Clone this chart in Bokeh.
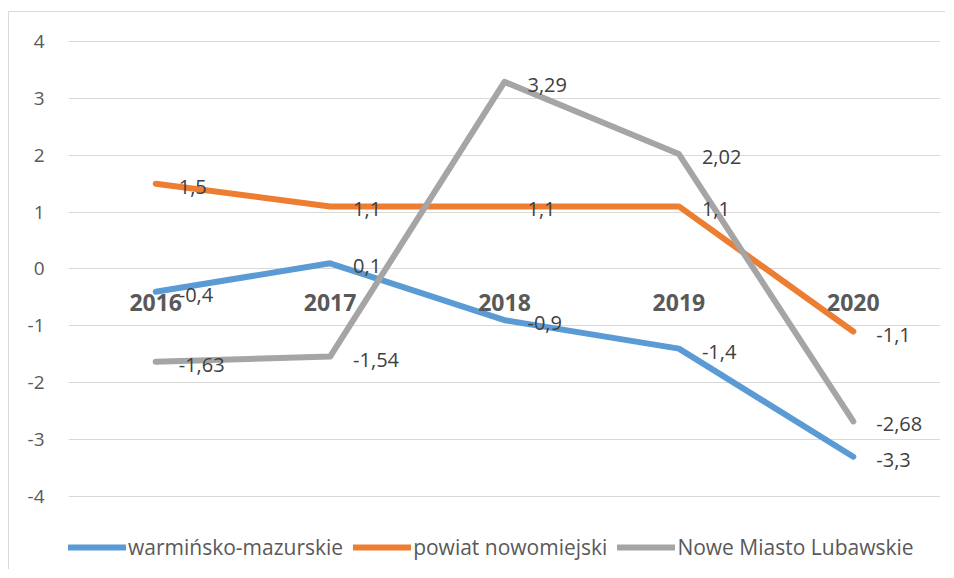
from bokeh.plotting import figure
from bokeh.models import FixedTicker, Legend, LegendItem, ColumnDataSource
from bokeh.core.properties import value
from bokeh.embed import file_html
from bokeh.resources import INLINE

years = ["2016", "2017", "2018", "2019", "2020"]
warminsko = [-0.4, 0.1, -0.9, -1.4, -3.3]
powiat = [1.5, 1.1, 1.1, 1.1, -1.1]
nowe_miasto = [-1.63, -1.54, 3.29, 2.02, -2.68]
series_names = ["warmińsko-mazurskie", "powiat nowomiejski", "Nowe Miasto Lubawskie"]
colors = ["#5B9BD5", "#ED7D31", "#A5A5A5"]
y_ticks = [-4, -3, -2, -1, 0, 1, 2, 3, 4]
y_tick_labels = ["-4", "-3", "-2", "-1", "0", "1", "2", "3", "4"]

FONT = "Open Sans"
xs = list(range(len(years)))

p = figure(width=937, height=558, output_backend="svg", toolbar_location=None,
           x_range=(-0.5, 4.5), y_range=(-5.301, 4.105),
           min_border_left=59, min_border_right=6, min_border_top=23, min_border_bottom=0,
           styles={"margin-left": "8px", "margin-top": "11px",
                   "border-left": "1px solid #d9d9d9", "border-top": "1px solid #d9d9d9"})
p.background_fill_color = "white"
p.border_fill_color = "white"
p.outline_line_color = None

p.xaxis.visible = False
p.xgrid.visible = False
p.yaxis.ticker = FixedTicker(ticks=y_ticks)
p.yaxis.major_label_overrides = {t: l for t, l in zip(y_ticks, y_tick_labels)}
p.yaxis.axis_line_color = None
p.yaxis.major_tick_line_color = None
p.yaxis.minor_tick_line_color = None
p.yaxis.major_tick_out = 0
p.yaxis.major_label_standoff = 24
p.yaxis.major_label_text_font = FONT
p.yaxis.major_label_text_font_size = "19px"
p.yaxis.major_label_text_color = "#595959"
p.ygrid.ticker = FixedTicker(ticks=y_ticks)
p.ygrid.grid_line_color = "#d9d9d9"
p.ygrid.grid_line_width = 1

items = []
all_series = [warminsko, powiat, nowe_miasto]
for name, vals, col in zip(series_names, all_series, colors):
    r = p.line(xs, vals, line_color=col, line_width=6, line_join="round", line_cap="round")
    items.append(LegendItem(label=name, renderers=[r]))

# category labels at the zero line
p.text(x=xs, y=[0] * len(xs), text=years, text_align="center", text_baseline="middle",
       y_offset=34, text_font=value(FONT), text_font_style="bold", text_font_size="23px",
       text_color="#595959")

for vals in all_series:
    labels = [f"{v:g}".replace(".", ",") for v in vals]
    src = ColumnDataSource(dict(x=xs, y=vals, t=labels))
    p.text(x="x", y="y", text="t", source=src, x_offset=23, y_offset=3,
           text_align="left", text_baseline="middle", text_font=value(FONT),
           text_font_size="20px", text_color="#404040")

legend = Legend(items=items, location=(0, 9), orientation="horizontal",
                glyph_width=58, glyph_height=20, label_standoff=2, spacing=10,
                padding=0, margin=0, border_line_color=None, background_fill_alpha=0,
                label_text_font=FONT, label_text_font_size="21px", label_text_color="#595959")
p.add_layout(legend, "center")

open("out.html", "w").write(file_html(p, INLINE))
